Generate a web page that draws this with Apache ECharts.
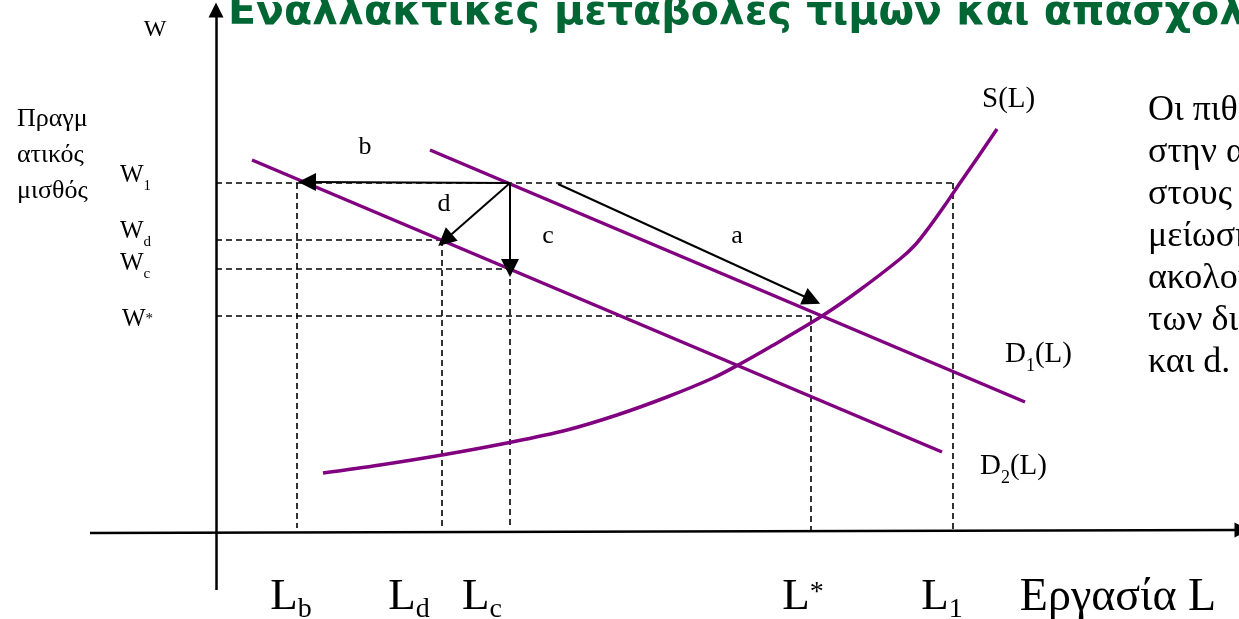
<!DOCTYPE html>
<html>
<head>
<meta charset="utf-8">
<script src="https://cdn.jsdelivr.net/npm/echarts@6/dist/echarts.min.js"></script>
<style>html,body{margin:0;padding:0;background:#fff}#c{width:1239px;height:619px}</style>
</head>
<body>
<div id="c"></div>
<script>
// ---- data (labour L on x, real wage W on y) ----
const laborNames = ['Lb', 'Ld', 'Lc', 'Lstar', 'L1'];
const laborValues = [8.1, 22.6, 29.4, 59.5, 73.7];
const wageNames = ['W1', 'Wd', 'Wc', 'Wstar'];
const wageValues = [34.8, 29.1, 26.2, 21.5];
const supplyS = [[10.7,5.8],[16.4,6.6],[22.6,7.6],[29.1,8.8],[35.1,10.1],[40.1,11.6],[45.1,13.4],[49.7,15.3],[52.4,16.7],[55.4,18.4],[60.6,21.5],[64.1,23.9],[68.4,27.2],[69.9,28.6],[71.4,30.5],[72.9,32.6],[74.4,34.8],[76.2,37.4],[78.1,40.2]];
const demandD1 = [[21.4,38.1],[80.9,12.9]];
const demandD2 = [[3.6,37.1],[72.6,7.9]];
const moveA = [[34.2,34.7],[59.6,23.1]];
const moveB = [[29.4,34.8],[9.1,34.9]];
const moveC = [[29.4,34.8],[29.4,26.3]];
const moveD = [[29.4,34.8],[22.9,29.1]];
const axisX = [[-12.6,-0.2],[102.6,0.1]];
const axisY = [[0,-5.9],[0,52.1]];
const titleText = 'Εναλλακτικές μεταβολές τιμών και απασχόλησης';
const sideText = ['Οι πιθανές μεταβολές', 'στην αγορά εργασίας', 'στους μισθούς και', 'μείωση της ζήτησης', 'ακολουθούν μία', 'των διαδρομών a, b, c', 'και d.'];
const yAxisName = ['Πραγμ', 'ατικός', 'μισθός'];
const xAxisName = 'Εργασία L';

const L = Object.fromEntries(laborNames.map((n, i) => [n, laborValues[i]]));
const W = Object.fromEntries(wageNames.map((n, i) => [n, wageValues[i]]));
const base = 0.3;

const dashed = [
  [[0, W.W1], [L.L1, W.W1]],
  [[L.Lb, W.W1], [L.Lb, base]],
  [[0, W.Wd], [L.Ld, W.Wd]],
  [[L.Ld, W.Wd], [L.Ld, base]],
  [[0, W.Wc], [L.Lc, W.Wc]],
  [[L.Lc, W.Wc], [L.Lc, base]],
  [[0, W.Wstar], [L.Lstar, W.Wstar]],
  [[L.Lstar, W.Wstar], [L.Lstar, 0.1]],
  [[L.L1, W.W1], [L.L1, 0.1]]
];

const serif = 'Liberation Serif';
const purple = '#800080';

function txt(x, y, formatter, align, size) {
  return { value: [x, y], label: { formatter: formatter, align: align || 'center', fontSize: size || 24 } };
}

const texts = [
  txt(-6.1, 50.1, 'W', 'center', 24),
  txt(-19.9, 37.6, yAxisName.join('\n'), 'left', 26),
  txt(-9.6, 35.0, '{w|W}{s|1}', 'left'),
  txt(-9.6, 29.4, '{w|W}{s|d}', 'left'),
  txt(-9.6, 26.2, '{w|W}{s|c}', 'left'),
  txt(-9.4, 20.6, '{w|W}{p|*}', 'left'),
  txt(76.6, 42.6, '{t|S(L)}', 'left'),
  txt(78.9, 17.1, '{t|D}{u|1}{t|(L)}', 'left'),
  txt(76.4, 5.9, '{t|D}{u|2}{t|(L)}', 'left'),
  txt(14.9, 38.4, 'b', 'center', 26),
  txt(22.8, 32.7, 'd', 'center', 26),
  txt(33.2, 29.5, 'c', 'center', 26),
  txt(52.1, 29.5, 'a', 'center', 26),
  txt(7.5, -7.0, '{L|L}{S|b}', 'center'),
  txt(19.3, -7.0, '{L|L}{S|d}', 'center'),
  txt(26.6, -7.0, '{L|L}{S|c}', 'center'),
  txt(58.7, -7.0, '{L|L}{P|*}', 'center'),
  txt(72.6, -7.0, '{L|L}{S|1}', 'center'),
  txt(90.2, -6.7, xAxisName, 'center', 46),
  txt(93.2, 29.4, sideText.join('\n'), 'left', 36)
];
texts[1].label.lineHeight = 36;
texts[19].label.lineHeight = 42;

const titleData = [{ value: [1.2, 51.8] }];

const chart = echarts.init(document.getElementById('c'), null, { renderer: 'canvas' });
chart.setOption({
  animation: false,
  backgroundColor: '#ffffff',
  grid: { left: 0, right: 0, top: 0, bottom: 0, containLabel: false },
  xAxis: { type: 'value', min: -21.6, max: 102.3, show: false },
  yAxis: { type: 'value', min: -8.8, max: 53.1, show: false },
  series: [
    {
      type: 'lines', coordinateSystem: 'cartesian2d', silent: true, z: 1,
      lineStyle: { color: '#000', width: 1.6, type: [6, 4], opacity: 1 },
      data: dashed.map(c => ({ coords: c }))
    },
    {
      type: 'line', data: demandD1, showSymbol: false, silent: true, z: 2,
      lineStyle: { color: purple, width: 3.5 }
    },
    {
      type: 'line', data: demandD2, showSymbol: false, silent: true, z: 2,
      lineStyle: { color: purple, width: 3.5 }
    },
    {
      type: 'line', data: supplyS, showSymbol: false, smooth: 0.35, silent: true, z: 2,
      lineStyle: { color: purple, width: 3.5 }
    },
    {
      type: 'lines', coordinateSystem: 'cartesian2d', silent: true, z: 3,
      symbol: ['none', 'triangle'], symbolSize: 18,
      lineStyle: { color: '#000', width: 2, opacity: 1 },
      itemStyle: { color: '#000' },
      data: [moveA, moveB, moveC, moveD].map(c => ({ coords: c }))
    },
    {
      type: 'lines', coordinateSystem: 'cartesian2d', silent: true, z: 3,
      symbol: ['none', 'triangle'], symbolSize: 15,
      lineStyle: { color: '#000', width: 2.5, opacity: 1 },
      data: [axisY, axisX].map(c => ({ coords: c }))
    },
    {
      type: 'scatter', symbolSize: 0, silent: true, z: 5,
      itemStyle: { opacity: 1 },
      data: texts,
      label: {
        show: true, position: 'inside', verticalAlign: 'middle', color: '#000', opacity: 1,
        textBorderWidth: 0, textBorderColor: 'transparent',
        fontFamily: serif, fontSize: 24,
        rich: {
          w: { fontFamily: serif, fontSize: 25, color: '#000', verticalAlign: 'bottom', lineHeight: 26, padding: [0, 0, 6, 0] },
          s: { fontFamily: serif, fontSize: 15, color: '#000', verticalAlign: 'bottom', lineHeight: 16 },
          p: { fontFamily: serif, fontSize: 15, color: '#000', verticalAlign: 'top', lineHeight: 16 },
          t: { fontFamily: serif, fontSize: 29, color: '#000', verticalAlign: 'bottom', lineHeight: 30, padding: [0, 0, 6, 0] },
          u: { fontFamily: serif, fontSize: 18, color: '#000', verticalAlign: 'bottom', lineHeight: 20 },
          L: { fontFamily: serif, fontSize: 45, color: '#000', verticalAlign: 'bottom', lineHeight: 45, padding: [0, 0, 4, 0] },
          S: { fontFamily: serif, fontSize: 28, color: '#000', verticalAlign: 'bottom', lineHeight: 28 },
          P: { fontFamily: serif, fontSize: 28, color: '#000', verticalAlign: 'top', lineHeight: 28 }
        }
      }
    },
    {
      type: 'scatter', symbolSize: 0, silent: true, z: 5,
      itemStyle: { opacity: 1 },
      data: titleData,
      label: {
        show: true, position: 'inside', align: 'left', verticalAlign: 'middle', opacity: 1,
        textBorderWidth: 0, textBorderColor: 'transparent',
        formatter: titleText, color: '#006633', fontFamily: 'DejaVu Sans', fontWeight: 'bold', fontSize: 41
      }
    }
  ]
});
</script>
</body>
</html>
